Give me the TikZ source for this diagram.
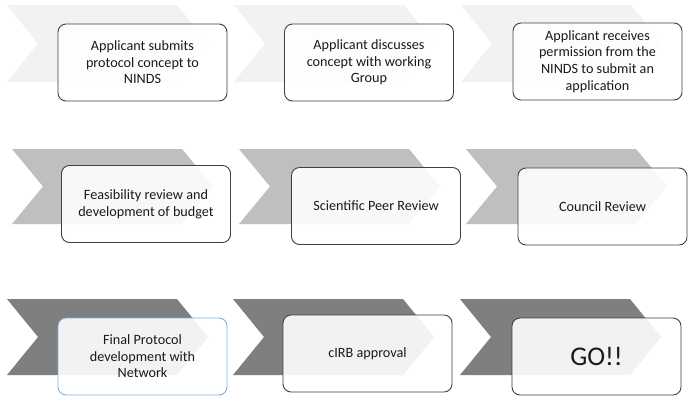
\documentclass[tikz,border=0pt]{standalone}
\usepackage{fontspec}
\setmainfont{Carlito}
\definecolor{chevA}{HTML}{F2F2F2}
\definecolor{chevB}{HTML}{BFBFBF}
\definecolor{chevC}{HTML}{7F7F7F}
\definecolor{boxline}{HTML}{404040}
\definecolor{blueline}{HTML}{7EAEDC}
\definecolor{txt}{HTML}{1A1A1A}
\begin{document}
\begin{tikzpicture}[x=1pt,y=-1pt,
  stepbox/.style={draw=boxline, line width=0.9pt, rounded corners=8pt,
    fill=white, fill opacity=0.9, text opacity=1, text=txt,
    minimum width=169pt, minimum height=77pt, align=center,
    font=\fontsize{14.2}{16.6}\selectfont}]
\useasboundingbox (0,0) rectangle (692,400);
\fill[white] (0,0) rectangle (692,400);
% chevrons
\foreach \L in {7,234,461}{
  \fill[chevA] (\L,5) -- (\L+170,5) -- (\L+201,43.5) -- (\L+170,82) -- (\L,82) -- (\L+31,43.5) -- cycle;}
\foreach \L in {12,239,466}{
  \fill[chevB] (\L,149) -- (\L+170,149) -- (\L+201,186.5) -- (\L+170,224) -- (\L,224) -- (\L+31,186.5) -- cycle;}
\foreach \L in {7,233,460}{
  \fill[chevC] (\L,299) -- (\L+170,299) -- (\L+201,337) -- (\L+170,375) -- (\L,375) -- (\L+31,337) -- cycle;}
% boxes
\node[stepbox] (b1) at (142.5,62.5) {Applicant submits\\protocol concept to\\NINDS};
\node[stepbox] (b2) at (369,62.5) {Applicant discusses\\concept with working\\Group};
\node[stepbox] (b3) at (597.5,61.5) {Applicant receives\\permission from the\\NINDS to submit an\\application};
\node[stepbox] (b4) at (146,204) {Feasibility review and\\development of budget};
\node[stepbox] (b5) at (376,206) {Scientific Peer Review};
\node[stepbox] (b6) at (602.5,206.5) {Council Review};
\node[stepbox, draw=blueline] (b7) at (142.5,356.5) {Final Protocol\\development with\\Network};
\node[stepbox] (b8) at (367.5,353.5) {cIRB approval};
\node[stepbox, font=\fontsize{27}{30}\selectfont] (b9) at (596.5,356.5) {GO!!};
\end{tikzpicture}
\end{document}
